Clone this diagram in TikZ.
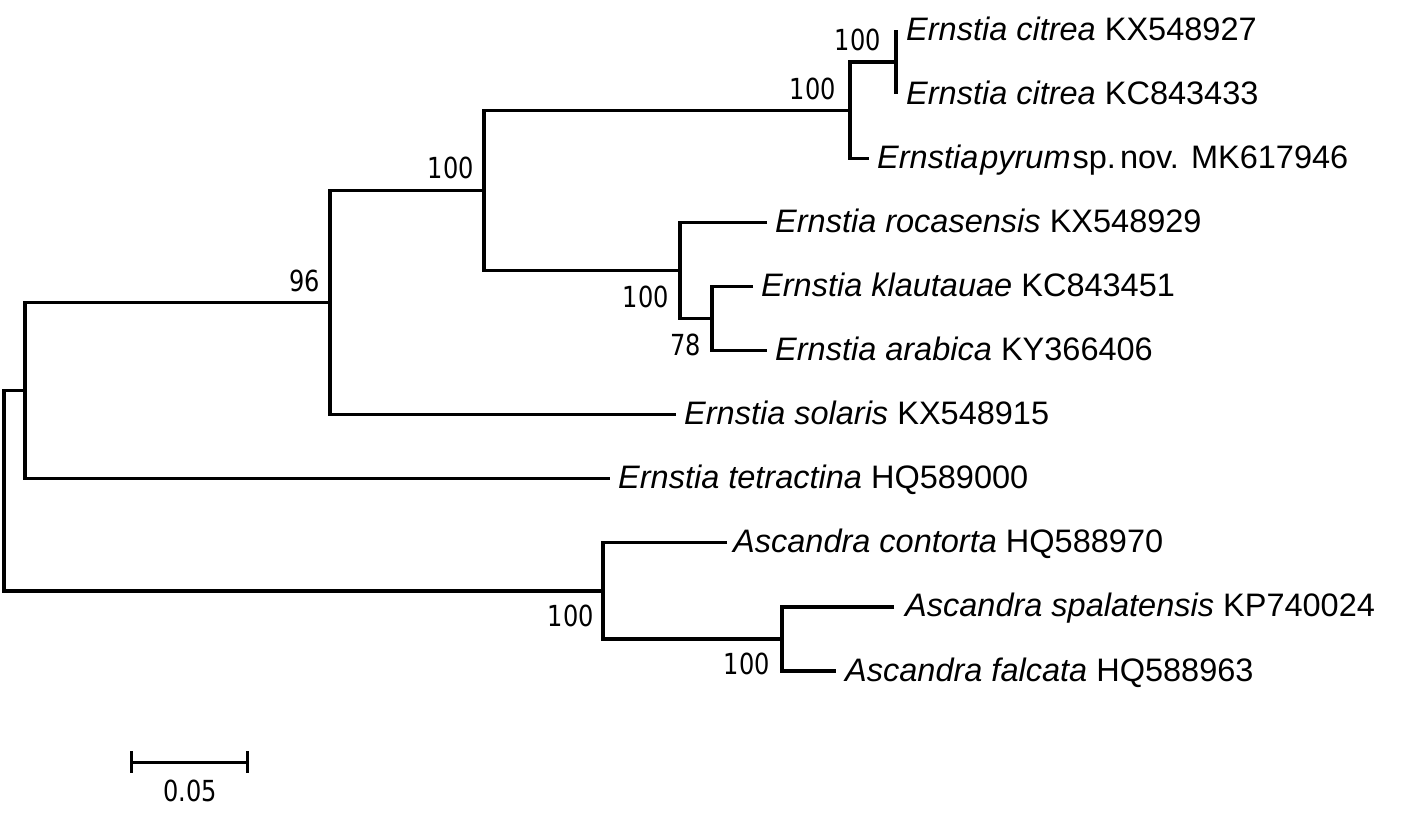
\documentclass[tikz,border=0pt]{standalone}
\usepackage{fontspec}
\setmainfont{Liberation Sans}
\newfontfamily\supfont[FakeStretch=0.83]{DejaVu Sans}
\begin{document}
\begin{tikzpicture}[x=1pt,y=-1pt,
  branch/.style={line width=3.2pt, line join=miter},
  tiplab/.style={anchor=base west, inner sep=0pt, font=\fontsize{32.5}{39}\selectfont},
  sup/.style={inner sep=0pt, font=\supfont\fontsize{29}{31}\selectfont},
  supA/.style={sup, anchor=south east},
  supB/.style={sup, anchor=north east}]
\useasboundingbox (0,0) rectangle (1417,812);
% tips
\coordinate (t0) at (896,30);
\coordinate (t1) at (896,94.1);
\coordinate (t2) at (869,158.2);
\coordinate (t3) at (767,222.3);
\coordinate (t4) at (753,286.4);
\coordinate (t5) at (767,350.5);
\coordinate (t6) at (676,414.6);
\coordinate (t7) at (610,478.7);
\coordinate (t8) at (727,542.8);
\coordinate (t9) at (894,606.9);
\coordinate (t10) at (836,671);
% internal nodes
\coordinate (nA) at (896,62.05);
\coordinate (nB) at (850,110.1);
\coordinate (nC) at (712,318.45);
\coordinate (nD) at (680,270.4);
\coordinate (nE) at (484,190.25);
\coordinate (nF) at (330,302.4);
\coordinate (nG) at (25,390.55);
\coordinate (nH) at (782,638.95);
\coordinate (nI) at (603,590.9);
\coordinate (root) at (4,490.7);
% branches
\draw[branch] (t0) -- (t1);
\draw[branch] (nA) -| (nB) |- (t2);
\draw[branch] (t4) -| (nC) |- (t5);
\draw[branch] (t3) -| (nD) |- (nC);
\draw[branch] (nB) -| (nE) |- (nD);
\draw[branch] (nE) -| (nF) |- (t6);
\draw[branch] (nF) -| (nG) |- (t7);
\draw[branch] (t9) -| (nH) |- (t10);
\draw[branch] (t8) -| (nI) |- (nH);
\draw[branch] (nG) -| (root) |- (nI);
% tip labels
\node[tiplab] (L0) at ([shift={(10,10)}]t0) {\textit{Ernstia citrea} KX548927};
\node[tiplab] (L1) at ([shift={(10,10)}]t1) {\textit{Ernstia citrea} KC843433};
\node[tiplab] (L2) at ([shift={(8,10)}]t2) {\textit{Ernstia\hspace{2pt}pyrum}\hspace{2pt}sp.\hspace{4pt}nov. MK617946};
\node[tiplab] (L3) at ([shift={(8,10)}]t3) {\textit{Ernstia rocasensis} KX548929};
\node[tiplab] (L4) at ([shift={(8,10)}]t4) {\textit{Ernstia klautauae} KC843451};
\node[tiplab] (L5) at ([shift={(8,10)}]t5) {\textit{Ernstia arabica} KY366406};
\node[tiplab] (L6) at ([shift={(8,10)}]t6) {\textit{Ernstia solaris} KX548915};
\node[tiplab] (L7) at ([shift={(8,10)}]t7) {\textit{Ernstia tetractina} HQ589000};
\node[tiplab] (L8) at ([shift={(6,10)}]t8) {\textit{Ascandra contorta} HQ588970};
\node[tiplab] (L9) at ([shift={(11,10)}]t9) {\textit{Ascandra spalatensis} KP740024};
\node[tiplab] (L10) at ([shift={(9,10)}]t10) {\textit{Ascandra falcata} HQ588963};
% support values
\node[supA] (sA) at ([shift={(-15,-11)}]nA) {100};
\node[supA] (sB) at ([shift={(-14,-10)}]nB) {100};
\node[supA] (sE) at ([shift={(-10,-11)}]nE) {100};
\node[supA] (sF) at ([shift={(-10,-10)}]nF) {96};
\node[supB] (sD) at ([shift={(-11,15)}]nD) {100};
\node[supB] (sC) at ([shift={(-11,15)}]nC) {78};
\node[supB] (sI) at ([shift={(-9,14)}]nI) {100};
\node[supB] (sH) at ([shift={(-12,14)}]nH) {100};
% scale bar
\coordinate (sb1) at (131,762);
\coordinate (sb2) at (247,762);
\draw[line width=3pt] (sb1) -- (sb2);
\draw[line width=3pt] ([shift={(0,-11)}]sb1) -- ([shift={(0,11)}]sb1);
\draw[line width=3pt] ([shift={(0,-11)}]sb2) -- ([shift={(0,11)}]sb2);
\node[sup] (sbl) at (190,790.5) {0.05};
\end{tikzpicture}
\end{document}
